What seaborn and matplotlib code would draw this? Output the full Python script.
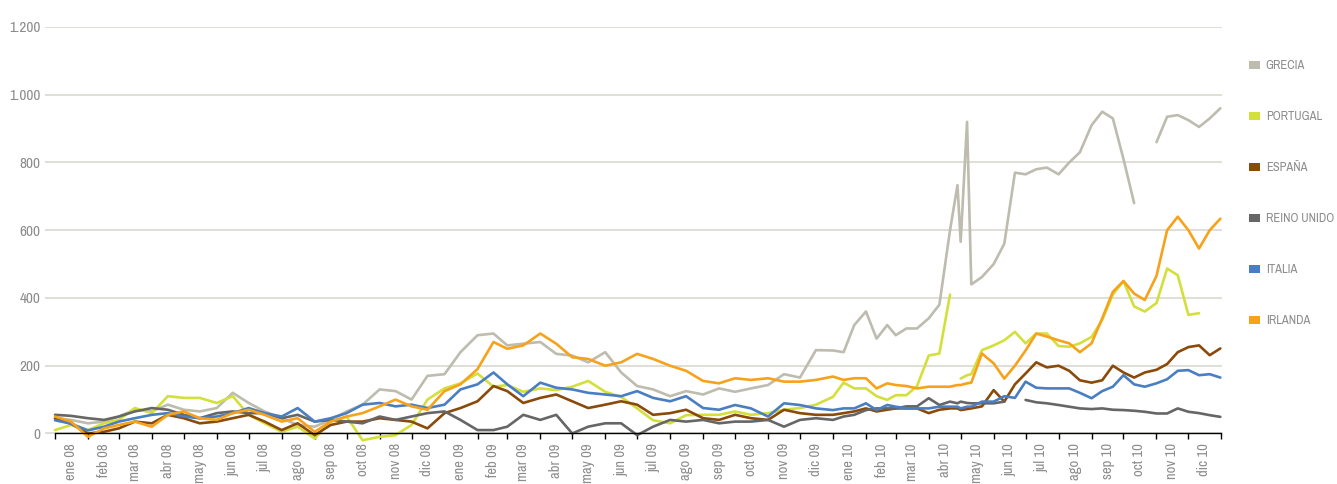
import matplotlib
matplotlib.use("Agg")
import matplotlib.pyplot as plt
import matplotlib.dates as mdates
from matplotlib import font_manager as fm
from matplotlib.patches import Patch
from matplotlib.ticker import FixedLocator, FixedFormatter, FuncFormatter
import numpy as np
import pandas as pd
import seaborn as sns

sns.set_theme(style="white")

# narrow font if one is installed, else a fairly narrow sans
_names = sorted({f.name for f in fm.fontManager.ttflist})
_narrow = [n for n in _names if "Narrow" in n or "Condensed" in n]
if _narrow:
    FONT, FS_LEG, FS_Y, FS_X = _narrow[0], 9, 11, 10.5
else:
    FONT, FS_LEG, FS_Y, FS_X = "Noto Sans CJK JP", 8.5, 10.5, 10
plt.rcParams["font.family"] = [FONT, "DejaVu Sans"]

nan = np.nan

# date grid: semi-monthly 2008-2009, ~10-day steps in 2010 (+ a few extra days)
DATES_0809 = [f"{y}-{m:02d}-{d:02d}" for y in (2008, 2009)
              for m in range(1, 13) for d in (1, 16)]
DATES_10 = sorted([f"2010-{m:02d}-{d:02d}" for m in range(1, 13) for d in (1, 11, 21)]
                  + ["2010-04-28", "2010-05-07", "2010-12-31"])

COUNTRIES = ["GRECIA", "PORTUGAL", "ESPAÑA", "REINO UNIDO", "ITALIA", "IRLANDA"]
COLORS = ["#bdbcae", "#d3e03b", "#8a4a0a", "#666666", "#4a7ec2", "#f7a21b"]
MONTHS = ["ene", "feb", "mar", "abr", "may", "jun",
          "jul", "ago", "sep", "oct", "nov", "dic"]

GRECIA = [45, 40, 30, 35, 50, 70, 65, 85, 70, 65, 75, 120, 90, 65, 45, 25, 20, 40, 65, 85,
          130, 125, 100, 170, 175, 240, 290, 295, 260, 265, 270, 235, 230, 210, 240, 180,
          140, 130, 110, 125, 115, 133, 123, 133, 143, 175, 165, 246,
          245, 240, 320, 360, 280, 320, 290, 310, 310, 340, 380, 600, 733, 566, 920, 440,
          462, 500, 560, 770, 765, 780, 785, 765, 800, 830, 910, 950, 930, 810, 680, nan,
          860, 935, 940, 925, 905, 930, 960]
PORTUGAL = [10, 25, 10, 30, 40, 75, 60, 110, 105, 105, 90, 110, 55, 30, 5, 20, -15, 35, 50, -20,
            -10, -5, 25, 100, 133, 148, 177, 138, 143, 123, 133, 128, 138, 155, 123, 108,
            74, 39, 30, 54, 55, 55, 65, 55, 60, 70, 75, 85,
            108, 150, 133, 133, 110, 99, 113, 113, 140, 230, 236, 410, nan, 162, 172, 175,
            246, 260, 275, 300, 266, 295, 295, 258, 256, 266, 285, 335, 410, 450, 375, 360,
            385, 487, 467, 350, 355, nan, 380]
ESPANA = [44, 29, 0, 5, 15, 35, 30, 55, 45, 30, 35, 45, 55, 35, 10, 30, -5, 25, 35, 35,
          45, 40, 35, 15, 60, 75, 95, 140, 125, 90, 105, 115, 95, 75, 85, 95,
          85, 55, 60, 70, 45, 40, 55, 45, 40, 70, 60, 55,
          55, 60, 65, 74, 65, 70, 74, 74, 74, 60, 70, 74, 74, 69, 72, 74,
          80, 128, 94, 145, 177, 210, 195, 200, 185, 157, 150, 157, 200, 180, 165, 180,
          188, 205, 240, 255, 260, 231, 251]
REINO_UNIDO = [55, 52, 45, 40, 50, 65, 75, 70, 55, 45, 60, 65, 60, 60, 45, 55, 35, 40, 35, 30,
               50, 40, 50, 60, 65, 40, 10, 10, 20, 55, 40, 55, 0, 20, 30, 30,
               -5, 20, 40, 35, 40, 30, 35, 35, 40, 20, 40, 45,
               40, 50, 55, 69, 74, 74, 74, 80, 80, 104, 84, 94, 89, 94, 90, 89,
               89, 89, 94, nan, 99, 92, 89, 84, 79, 74, 72, 74, 70, 69, 67, 64,
               59, 59, 74, 64, 60, 54, 49]
ITALIA = [39, 29, 9, 20, 35, 45, 55, 60, 50, 45, 50, 60, 75, 60, 50, 75, 35, 45, 60, 85,
          90, 80, 85, 75, 85, 130, 145, 180, 145, 110, 150, 135, 130, 120, 115, 110,
          125, 105, 95, 110, 75, 70, 84, 74, 50, 89, 84, 74,
          69, 74, 74, 89, 69, 84, 79, 74, 74, 74, 79, 79, 79, 74, 79, 79,
          94, 94, 110, 105, 153, 135, 133, 133, 133, 120, 104, 125, 138, 172, 145, 138,
          148, 160, 185, 187, 172, 175, 165]
IRLANDA = [50, 35, -10, 15, 25, 35, 20, 55, 65, 45, 40, 60, 70, 55, 35, 45, 5, 35, 50, 60,
           80, 100, 80, 70, 125, 145, 190, 270, 250, 260, 295, 265, 225, 220, 200, 210,
           235, 220, 200, 185, 155, 148, 163, 158, 163, 153, 153, 158,
           168, 158, 163, 163, 133, 148, 143, 140, 133, 138, 138, 138, 143, 143, 148, 150,
           236, 207, 162, 200, 245, 295, 286, 275, 266, 240, 266, 340, 418, 450, 413, 394,
           465, 600, 640, 600, 546, 600, 634]

SERIES = [GRECIA, PORTUGAL, ESPANA, REINO_UNIDO, ITALIA, IRLANDA]

dates = pd.to_datetime(DATES_0809 + DATES_10)
frames = []
for name, vals in zip(COUNTRIES, SERIES):
    s = pd.Series(vals, index=dates, dtype=float)
    seg = s.isna().cumsum()          # break the line where data is missing
    d = pd.DataFrame({"fecha": dates, "valor": s.values, "pais": name, "seg": seg.values})
    frames.append(d.dropna())
df = pd.concat(frames, ignore_index=True)

W, H = 1337, 484
fig = plt.figure(figsize=(W / 100, H / 100), dpi=100)
ax = fig.add_axes([45 / W, 1 - 448.7 / H, (1222 - 45) / W, (448.7 - 27) / H])

sns.lineplot(data=df, x="fecha", y="valor", hue="pais", units="seg", estimator=None,
             hue_order=COUNTRIES, palette=COLORS, lw=1.9, legend=False, ax=ax)

TXT = "#8c8c8c"
x0 = mdates.date2num(pd.Timestamp("2008-01-01"))
x1 = mdates.date2num(pd.Timestamp("2011-01-01"))
ppd = 1166.4 / (x1 - x0)
ax.set_xlim(x0 - 10 / ppd, x1 + 0.6 / ppd)
ax.set_ylim(-45, 1200)

ax.set_yticks(range(0, 1201, 200))
ax.yaxis.set_major_formatter(FuncFormatter(lambda v, _: f"{int(v):,}".replace(",", ".")))
ax.grid(axis="y", color="#d6d5cc", lw=1.1)
ax.grid(axis="x", visible=False)
ax.tick_params(axis="y", length=0, pad=3, labelsize=FS_Y, labelcolor=TXT)

# ticks at month starts, labels centred in each month
month_starts = pd.date_range("2008-01-01", "2011-01-01", freq="MS")
mids = month_starts[:-1] + pd.Timedelta(days=15)
labels = [f"{MONTHS[d.month - 1]} {d.year % 100:02d}" for d in mids]
ax.xaxis.set_major_locator(FixedLocator(mdates.date2num(month_starts)))
ax.xaxis.set_major_formatter(FixedFormatter([""] * len(month_starts)))
ax.xaxis.set_minor_locator(FixedLocator(mdates.date2num(mids)))
ax.xaxis.set_minor_formatter(FixedFormatter(labels))
ax.tick_params(axis="x", which="major", length=4, width=1, color="black", direction="out",
               bottom=True)
ax.tick_params(axis="x", which="minor", length=0, pad=7, labelsize=FS_X, labelcolor=TXT,
               labelrotation=90)
for t in ax.xaxis.get_minorticklabels():
    t.set_va("top")
    t.set_ha("center")
ax.set_xlabel("")
ax.set_ylabel("")

for side in ("top", "right", "left"):
    ax.spines[side].set_visible(False)
ax.spines["bottom"].set_position(("data", 0))
ax.spines["bottom"].set_color("black")
ax.spines["bottom"].set_linewidth(1)
ax.spines["bottom"].set_bounds(x0, x1)

handles = [Patch(facecolor=c, edgecolor="none") for c in COLORS]
fig.legend(handles, COUNTRIES, loc="upper left", bbox_to_anchor=(1249 / W, 1 - 60 / H),
           frameon=False, handlelength=0.9, handleheight=0.6, handletextpad=0.45,
           labelspacing=3.2, fontsize=FS_LEG, labelcolor=TXT, borderaxespad=0,
           borderpad=0)

fig.savefig("out.png", dpi=100)
